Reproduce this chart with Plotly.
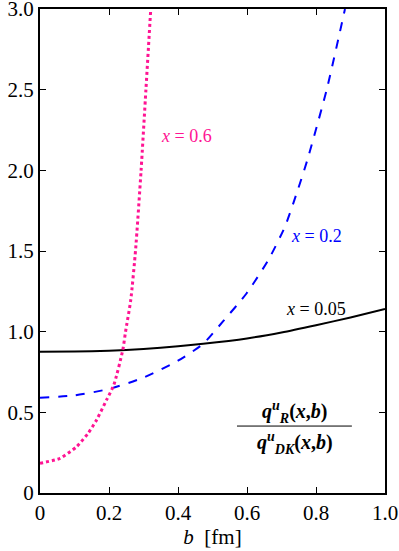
import plotly.graph_objects as go

# valores: q_R / q_DK frente a b [fm]
b_005 = [0.0, 0.1, 0.2, 0.3, 0.4, 0.473, 0.6, 0.7, 0.8, 0.9, 1.0]
r_005 = [0.875, 0.877, 0.882, 0.893, 0.910, 0.925, 0.958, 0.995, 1.040, 1.088, 1.140]

b_02 = [0.0, 0.1, 0.2, 0.3, 0.4, 0.473, 0.531, 0.599, 0.662, 0.710, 0.744, 0.775, 0.831, 0.884]
r_02 = [0.59, 0.605, 0.645, 0.715, 0.82, 0.925, 1.065, 1.238, 1.445, 1.651, 1.858, 2.065, 2.5, 3.0]

b_06 = [0.0, 0.058, 0.106, 0.140, 0.164, 0.193, 0.214, 0.240, 0.248, 0.263, 0.277, 0.293, 0.307, 0.321]
r_06 = [0.184, 0.215, 0.287, 0.372, 0.453, 0.577, 0.67, 0.887, 1.0, 1.196, 1.506, 2.0, 2.5, 3.0]

x_ticks = [0, 0.2, 0.4, 0.6, 0.8, 1.0]
x_labels = ["0", "0.2", "0.4", "0.6", "0.8", "1.0"]
y_ticks = [0, 0.5, 1.0, 1.5, 2.0, 2.5, 3.0]
y_labels = ["0", "0.5", "1.0", "1.5", "2.0", "2.5", "3.0"]

FUENTE = "Liberation Serif, serif"
NEGRO = "#000000"
AZUL = "#0000ff"
ROSA = "#ff1493"

fig = go.Figure()

fig.add_trace(go.Scatter(x=b_005, y=r_005, mode="lines",
                         line=dict(color=NEGRO, width=2, shape="spline",
                                   smoothing=0.6)))
fig.add_trace(go.Scatter(x=b_02, y=r_02, mode="lines",
                         line=dict(color=AZUL, width=2, dash="dash",
                                   shape="spline", smoothing=0.6)))
fig.add_trace(go.Scatter(x=b_06, y=r_06, mode="lines",
                         line=dict(color=ROSA, width=3, dash="dot",
                                   shape="spline", smoothing=0.6)))

etiquetas = [
    (0.426, 2.21, "<i>x</i> = 0.6", ROSA),
    (0.80, 1.59, "<i>x</i> = 0.2", AZUL),
    (0.80, 1.14, "<i>x</i> = 0.05", NEGRO),
]
for bx, ry, texto, color in etiquetas:
    fig.add_annotation(x=bx, y=ry, text=texto, showarrow=False,
                       font=dict(family=FUENTE, size=18, color=color))

# cociente q_R / q_DK
fig.add_annotation(x=0.738, y=0.50, showarrow=False,
                   text="<b><i>q<sup>u</sup><sub>R</sub></i>(<i>x</i>,<i>b</i>)</b>",
                   font=dict(family=FUENTE, size=20, color=NEGRO))
fig.add_annotation(x=0.738, y=0.31, showarrow=False,
                   text="<b><i>q<sup>u</sup><sub>DK</sub></i>(<i>x</i>,<i>b</i>)</b>",
                   font=dict(family=FUENTE, size=20, color=NEGRO))
fig.add_shape(type="line", x0=0.571, x1=0.904, y0=0.415, y1=0.415,
              line=dict(color=NEGRO, width=1))

eje = dict(showline=True, linecolor=NEGRO, linewidth=2, mirror="ticks",
           ticks="inside", ticklen=6, tickcolor=NEGRO, showgrid=False,
           zeroline=False, automargin=False, ticklabeloverflow="allow",
           tickfont=dict(family=FUENTE, size=21, color=NEGRO))

fig.update_xaxes(range=[0, 1.0], tickvals=x_ticks, ticktext=x_labels,
                 title=dict(text="<i>b</i>  [fm]", standoff=2,
                            font=dict(family=FUENTE, size=21, color=NEGRO)),
                 **eje)
fig.update_yaxes(range=[0, 3.0], tickvals=y_ticks, ticktext=y_labels, **eje)

fig.update_layout(
    width=399,
    height=551,
    margin=dict(l=40, r=14, t=9, b=58),
    paper_bgcolor="white",
    plot_bgcolor="white",
    showlegend=False,
    font=dict(family=FUENTE),
)

# quitar el margen del body para que la figura empiece en (0, 0)
fig.write_html("out.html", config={"displayModeBar": False},
               post_script="document.body.style.margin='0';")
